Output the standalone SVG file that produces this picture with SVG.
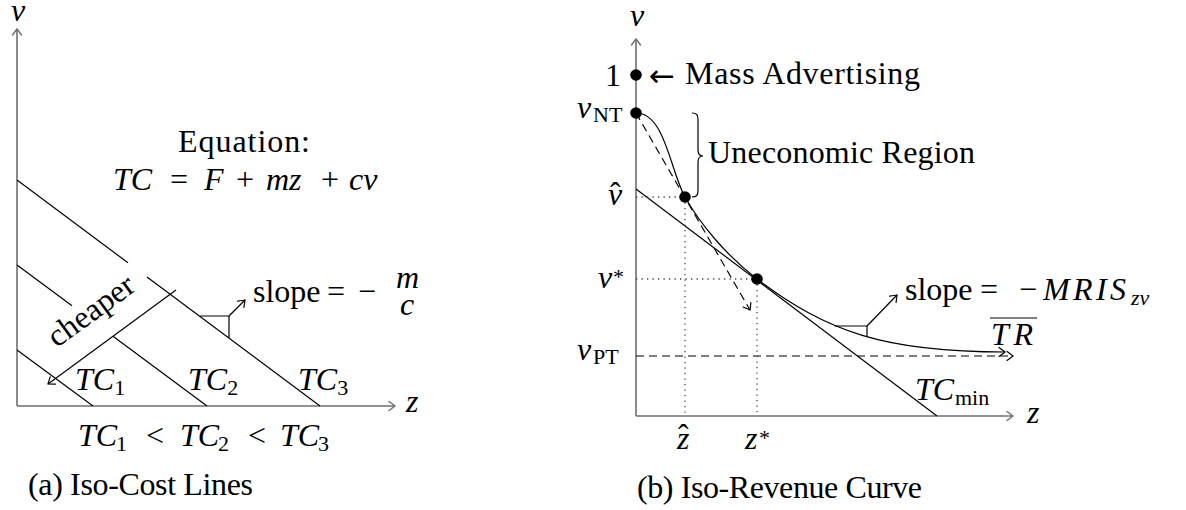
<svg xmlns="http://www.w3.org/2000/svg" width="1186" height="510" viewBox="0 0 1186 510">
<style>
.t{font-family:"Liberation Serif","Times New Roman",serif;font-size:32px;fill:#000}
.i{font-style:italic}
.s{font-size:22px}
.ax{fill:none;stroke:#6e6e6e;stroke-width:1.6}
.ln{fill:none;stroke:#000;stroke-width:1.2}
.da{fill:none;stroke:#000;stroke-width:1.2;stroke-dasharray:8 5}
.do{fill:none;stroke:#444;stroke-width:1.3;stroke-dasharray:1.3 4.2}
.dot{fill:#000}
</style>
<defs>
<marker id="arG" markerUnits="userSpaceOnUse" viewBox="-9 -7 11 14" refX="0" refY="0" markerWidth="11" markerHeight="14" orient="auto">
<path d="M-6,-4.5 Q-1.5,-1.2 0,0 Q-1.5,1.2 -6,4.5" fill="none" stroke="#6e6e6e" stroke-width="1.4" stroke-linecap="round"/>
</marker>
<marker id="arK" markerUnits="userSpaceOnUse" viewBox="-9 -7 11 14" refX="0" refY="0" markerWidth="11" markerHeight="14" orient="auto">
<path d="M-6,-4.5 Q-1.5,-1.2 0,0 Q-1.5,1.2 -6,4.5" fill="none" stroke="#000" stroke-width="1.2" stroke-linecap="round"/>
</marker>
</defs>
<rect width="1186" height="510" fill="#fff"/>

<g id="connectors">
<!-- panel a -->
<line class="ax" x1="17" y1="406" x2="17" y2="29" marker-end="url(#arG)"/>
<line class="ax" x1="17" y1="406" x2="395" y2="406" marker-end="url(#arG)"/>
<path class="ln" d="M17,350 L93,406"/>
<path class="ln" d="M17,265 L72,305.8 M113,336.2 L207,406"/>
<path class="ln" d="M17,180 L128,262.8 M147,277 L320,406"/>
<path class="ln" d="M176,290 L48,384" marker-end="url(#arK)"/>
<path class="ln" d="M200,316 H229 V338"/>
<path class="ln" d="M229,316 L245,300" marker-end="url(#arK)"/>
<!-- panel b -->
<line class="ax" x1="636" y1="416" x2="636" y2="39" marker-end="url(#arG)"/>
<line class="ax" x1="636" y1="416" x2="1013" y2="416" marker-end="url(#arG)"/>
<path class="da" d="M636,356 H1013" marker-end="url(#arK)"/>
<path class="ln" d="M636,189 L937,416"/>
<path class="do" d="M636,197 H685 M685,197 V416 M636,279 H757 M757,279 V416"/>
<path class="da" d="M636,113 L750,310" marker-end="url(#arK)"/>
<path class="ln" d="M636,113 C665,113 670,170 685,197 C700,224 727,256 757,279 C827,332 885,352 1005,352" marker-end="url(#arK)"/>
<path class="ln" d="M835,326 H867 V337"/>
<path class="ln" d="M867,326 L897,295" marker-end="url(#arK)"/>
<path class="ln" d="M692,113 C697,113 698,115 698,120 L698,150 C698,154 700,156 703,156 C700,156 698,158 698,162 L698,190 C698,195 697,197 692,197"/>
</g>

<g id="dots">
<circle class="dot" cx="636" cy="75" r="5.8"/>
<circle class="dot" cx="636" cy="113" r="5.8"/>
<circle class="dot" cx="685" cy="197" r="5.8"/>
<circle class="dot" cx="757" cy="279" r="5.8"/>
</g>

<g id="labels-a">
<text class="t i" x="18" y="21" text-anchor="middle">v</text>
<text class="t i" x="406" y="412">z</text>
<text class="t" x="178" y="152" textLength="132" lengthAdjust="spacing">Equation:</text>
<text class="t" y="190"><tspan class="i" x="113">TC</tspan><tspan x="170">=</tspan><tspan class="i" x="204">F</tspan><tspan x="236">+</tspan><tspan class="i" x="266">mz</tspan><tspan x="321">+</tspan><tspan class="i" x="349">cv</tspan></text>
<text class="t" transform="translate(97,319) rotate(-36)" text-anchor="middle">cheaper</text>
<text class="t" y="302"><tspan x="253">slope</tspan><tspan x="327">=</tspan><tspan x="358">−</tspan></text>
<text class="t i" font-size="21" x="396" y="288">m</text>
<text class="t i" font-size="21" x="400" y="315">c</text>
<text class="t i" x="75" y="390">TC<tspan class="s" font-style="normal" dy="5">1</tspan></text>
<text class="t i" x="188" y="390">TC<tspan class="s" font-style="normal" dy="5">2</tspan></text>
<text class="t i" x="298" y="390">TC<tspan class="s" font-style="normal" dy="5">3</tspan></text>
<text class="t" y="446"><tspan class="i" x="78">TC</tspan><tspan class="s" x="116" y="451">1</tspan><tspan x="146" y="446">&lt;</tspan><tspan class="i" x="180">TC</tspan><tspan class="s" x="218" y="451">2</tspan><tspan x="248" y="446">&lt;</tspan><tspan class="i" x="280">TC</tspan><tspan class="s" x="318" y="451">3</tspan></text>
<text class="t" x="28" y="495" textLength="225" lengthAdjust="spacing">(a) Iso-Cost Lines</text>
</g>

<g id="labels-b">
<text class="t i" x="637" y="26" text-anchor="middle">v</text>
<text class="t i" x="1027" y="423">z</text>
<text class="t" x="605" y="86">1</text>
<text x="649" y="86" font-family="DejaVu Sans, sans-serif" font-size="30" textLength="26" lengthAdjust="spacingAndGlyphs">←</text>
<text class="t" x="685" y="84" textLength="235" lengthAdjust="spacing">Mass Advertising</text>
<text class="t i" x="577" y="118">v<tspan class="s" font-style="normal" x="593" y="122">NT</tspan></text>
<text class="t i" x="608" y="205">v<tspan font-style="normal" x="610" y="204">ˆ</tspan></text>
<text class="t i" x="598" y="288">v<tspan class="s" font-style="normal" x="613" y="284" font-size="24">*</tspan></text>
<text class="t i" x="577" y="360">v<tspan class="s" font-style="normal" x="593" y="364">PT</tspan></text>
<text class="t i" x="677" y="449">z<tspan font-style="normal" x="678" y="446">ˆ</tspan></text>
<text class="t i" x="745" y="449">z<tspan class="s" font-style="normal" x="759" y="445" font-size="24">*</tspan></text>
<text class="t i" x="915" y="400">TC<tspan class="s" font-style="normal" x="955" y="405">min</tspan></text>
<text class="t i" x="991" y="345" textLength="42" lengthAdjust="spacing">TR</text>
<line class="ln" x1="990" y1="318" x2="1037" y2="318"/>
<text class="t" y="300"><tspan x="905">slope</tspan><tspan x="980">=</tspan><tspan x="1019">−</tspan><tspan class="i" x="1043 1073 1096 1110">MRIS</tspan><tspan class="i s" x="1131" y="305">zv</tspan></text>
<text class="t" x="708" y="163" textLength="267" lengthAdjust="spacing">Uneconomic Region</text>
<text class="t" x="637" y="498" textLength="285" lengthAdjust="spacing">(b) Iso-Revenue Curve</text>
</g>
</svg>
